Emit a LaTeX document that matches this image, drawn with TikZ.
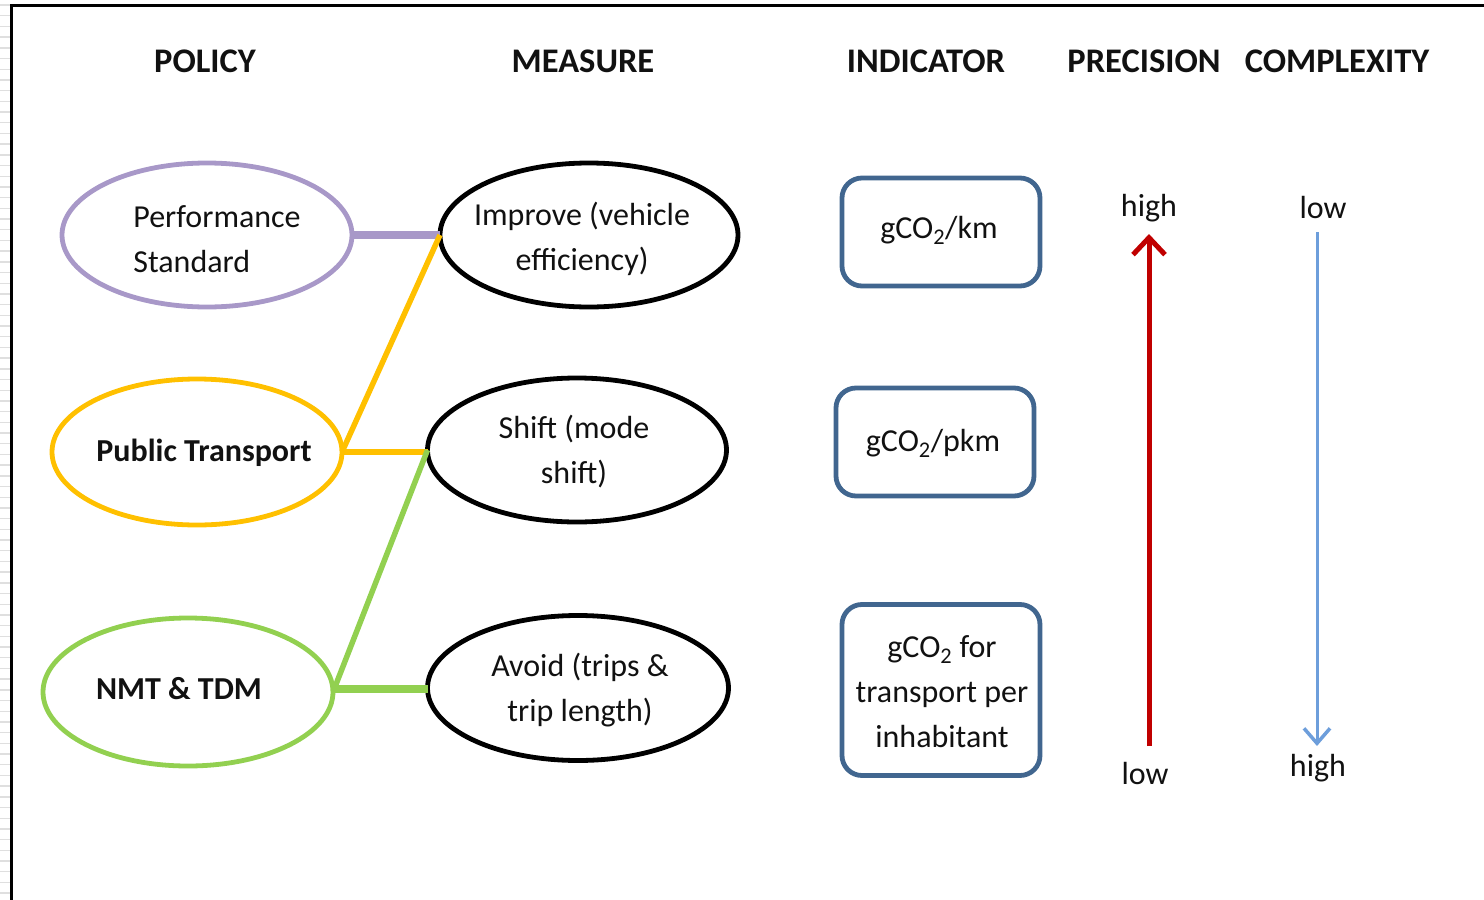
\documentclass[tikz,border=0pt]{standalone}
\usepackage{fontspec}
\setmainfont{Carlito}
\usetikzlibrary{shapes.geometric,arrows.meta}
\definecolor{lilac}{HTML}{A898C8}
\definecolor{amber}{HTML}{FFC000}
\definecolor{leaf}{HTML}{92D050}
\definecolor{steel}{HTML}{41668F}
\definecolor{crimson}{HTML}{C00000}
\definecolor{sky}{HTML}{6D9EDB}
\definecolor{ink}{HTML}{111111}

\begin{document}
\begin{tikzpicture}[x=1pt,y=-1pt,
  txt/.style={font=\fontsize{32}{45}\selectfont, text=ink, align=center, inner sep=0pt},
  head/.style={font=\fontsize{34.5}{40}\selectfont\bfseries, text=ink, inner sep=0pt},
  oval/.style={ellipse, draw, line width=4.8pt, minimum width=290pt, minimum height=144pt, inner sep=0pt, outer sep=0pt},
  ind/.style={draw=steel, line width=4.8pt, rounded corners=20pt, minimum width=198pt, outer sep=0pt},
  link/.style={line width=5.5pt},
  biglink/.style={line width=8pt},
]
\useasboundingbox (0,0) rectangle (1484,900);

% page edge
\foreach \k in {0,...,83} \draw[gray!25, line width=1.4pt] (0,{5+10.7*\k}) -- (10,{5+10.7*\k});
\draw[line width=3pt] (11.5,900) -- (11.5,5) -- (1484,5);

% column headings
\node[head] (hpol) at (205,61) {POLICY};
\node[head] (hmea) at (583,61) {MEASURE};
\node[head] (hind) at (926,61) {INDICATOR};
\node[head] (hpre) at (1144,61) {PRECISION};
\node[head] (hcom) at (1337,61) {COMPLEXITY};

% policies
\node[oval, draw=lilac] (ps) at (207,235) {};
\node[txt, align=left] (pst) at (217,239) {Performance\\Standard};
\node[oval, draw=amber, minimum height=146pt] (pt) at (197,452) {};
\node[txt, font=\fontsize{32}{45}\selectfont\bfseries] (ptt) at (204,453) {Public Transport};
\node[oval, draw=leaf, minimum height=148pt] (nmt) at (188,692) {};
\node[txt, font=\fontsize{32}{45}\selectfont\bfseries] (nmtt) at (179,689) {NMT \& TDM};

% measures
\node[oval, draw=black, minimum width=298pt] (im) at (589,235) {};
\node[txt] (imt) at (582,239) {Improve (vehicle\\efficiency)};
\node[oval, draw=black, minimum width=299pt] (sh) at (577,450) {};
\node[txt] (sht) at (574,452) {Shift (mode\\shift)};
\node[oval, draw=black, minimum width=301pt, minimum height=145pt] (av) at (578,688) {};
\node[txt] (avt) at (580,690) {Avoid (trips \&\\trip length)};

% links between policies and measures
\draw[biglink, lilac] (ps.east) -- (ps.east -| im.west);
\draw[link, amber] (pt.east) -- (im.west);
\draw[link, amber] (pt.east) -- (pt.east -| sh.west);
\draw[link, leaf] (nmt.east) -- (sh.west);
\draw[biglink, leaf] ([yshift=3pt]nmt.east) -- ([yshift=3pt]nmt.east -| av.west);

% indicators
\node[ind, minimum height=108pt] (ikm) at (941,232) {};
\node[txt] (ikmt) at (939,230) {gCO\textsubscript{2}/km};
\node[ind, minimum height=108pt] (ipkm) at (935,442) {};
\node[txt] (ipkmt) at (933,443) {gCO\textsubscript{2}/pkm};
\node[ind, minimum height=171pt] (ihab) at (941,690) {};
\node[txt] (ihabt) at (942,692) {gCO\textsubscript{2} for\\transport per\\inhabitant};

% precision and complexity scales
\node[txt] (phi) at (1149,208) {high};
\node[txt] (plo) at (1145,773) {low};
\node[txt] (clo) at (1323,207) {low};
\node[txt] (chi) at (1318,768) {high};
\coordinate (pbot) at (1149,746);
\coordinate (ptop) at (1149,234);
\coordinate (ctop) at (1317,232);
\coordinate (cbot) at (1317,746);
\draw[crimson, line width=5pt, -{Straight Barb[length=17pt, width=32pt, line width=5pt]}] (pbot) -- (ptop);
\draw[sky, line width=3pt, -{Straight Barb[length=15pt, width=26pt, line width=3.5pt]}] (ctop) -- (cbot);
\end{tikzpicture}
\end{document}
